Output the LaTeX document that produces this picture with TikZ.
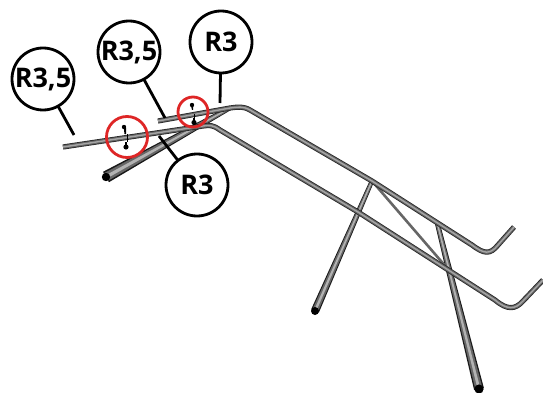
\documentclass[tikz,border=0pt]{standalone}
\usepackage{fontspec}
\setmainfont{Open Sans}
\usetikzlibrary{
  calc,
  positioning,
}
\definecolor{ringred}{RGB}{222,38,38}
\newcommand{\rail}[1]{
  \draw[r,line width=5.2pt,black!85] #1;
  \draw[r,line width=3.6pt,black!60] #1;
  \draw[r,line width=1.4pt,black!35] #1;
}
\newcommand{\leg}[4]{
  \foreach \c/\f in {black!90/1,black!60/.72,black!30/.28}{
    \fill[\c] ($(#1)!\f*#3!90:(#2)$) -- ($(#2)!\f*#4!-90:(#1)$)
    -- ($(#2)!\f*#4!90:(#1)$) -- ($(#1)!\f*#3!-90:(#2)$) -- cycle;
  }
}
\begin{document}
\begin{tikzpicture}[
    x = 1pt,
    y = -1pt,
    n/.style={
      draw, circle, minimum size=62pt, line width=2.8pt,
      inner sep=0pt, outer sep=0pt, fill=white,
      font=\fontsize{27}{30}\selectfont\bfseries,
    },
    a/.style={line width=2.8pt},
    r/.style={line join=round},
    o/.style={draw=ringred, line width=2.8pt},
    s/.style={fill=black},]
  \useasboundingbox (0,0) rectangle (543,393);
  %%
  \coordinate (TopJoin) at (372,181);
  \coordinate (LowJoin) at (358,212);
  \coordinate (FootA) at (106,177);
  \coordinate (HeadA) at (230,108);
  \coordinate (FootB) at (315,311);
  \coordinate (FootC) at (479,389);
  \coordinate (HeadC) at (437,222);
  \coordinate (Brace) at (447,268);
  %%
  \leg{FootA}{HeadA}{6pt}{2.2pt}
  \fill[black] (FootA) circle (4.2pt);
  \leg{FootB}{TopJoin}{4.2pt}{2.2pt}
  \fill[black] (FootB) circle (4pt);
  \leg{FootC}{HeadC}{5pt}{2.4pt}
  \fill[black] (FootC) circle (4.6pt);
  \draw[line width=2.6pt,black!60] (TopJoin) -- (Brace);
  %%
  \rail{(158,121) -- (230,108) .. controls (238,107) and (243,106) .. (250,110)
    -- (TopJoin) -- (472,245) .. controls (484,254) and (490,255) .. (498,245)
    -- (514,227)}
  \rail{(63,147) -- (203,126) .. controls (210,125) and (213,125) .. (220,130)
    -- (LowJoin) -- (495,300) .. controls (507,310) and (515,310) .. (523,301)
    -- (543,280)}
  %%
  \node[n] (C1) at (43,79) {R3,5};
  \node[n] (C2) at (129,52) {R3,5};
  \node[n] (C3) at (221,42) {R3};
  \node[n] (C4) at (197,185) {R3};
  \coordinate (E1) at (74,135);
  \coordinate (E2) at (165,118);
  \coordinate (E3) at (220,103);
  \coordinate (E4) at (159,136);
  \draw[a] (C1) -- (E1);
  \draw[a] (C2) -- (E2);
  \draw[a] (C3) -- (E3);
  \draw[a] (C4) -- (E4);
  %%
  \draw[o] (127,137) circle (20.5pt);
  \draw[o] (193,112) circle (15pt);
  %%
  \draw[line width=1pt] (127,134) -- (127,142);
  \fill[s] (124,127) circle (2.2pt);
  \fill[s] (123.8,128) -- (126.2,128) -- (126,134) -- (124.5,134) -- cycle;
  \fill[s] (126,147) circle (2.6pt);
  \fill[s] (125,141.5) rectangle (127,146);
  \draw[line width=1pt] (194,114) -- (194,119);
  \fill[s] (192,105) circle (2.2pt);
  \fill[s] (190.8,105) -- (193.2,105) -- (193,110) -- (192,110) -- cycle;
  \fill[s] (194,122.5) circle (2.6pt);
  \fill[s] (193,118) rectangle (195,122);
\end{tikzpicture}
\end{document}
